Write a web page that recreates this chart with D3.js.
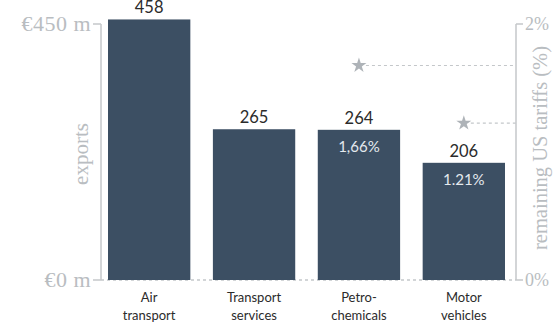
<!DOCTYPE html>
<html><head><meta charset="utf-8">
<script src="https://cdn.jsdelivr.net/npm/d3@7"></script>
<style>html,body{margin:0;padding:0;background:#fff;}</style>
</head><body>
<svg id="c" width="553" height="329"></svg>
<script>
const categories = [["Air","transport"],["Transport","services"],["Petro-","chemicals"],["Motor","vehicles"]];
const exportsVals = [458, 265, 264, 206];
const tariffVals = [null, null, 1.66, 1.21];
const tariffLabels = [null, null, "1,66%", "1.21%"];
const leftTicks = [0, 450];
const leftTickLabels = ["€0 m", "€450 m"];
const rightTicks = [0, 2];
const rightTickLabels = ["0%", "2%"];

const svg = d3.select("#c");
const y0 = 280, y1 = 24;
const xL = 101, xR = 516;
const x = d3.scaleBand().domain(d3.range(categories.length)).range([108, 505]).paddingInner(0.215).paddingOuter(0);
const y = d3.scaleLinear().domain([0, 450]).range([y0, y1]);
const yR = d3.scaleLinear().domain([0, 2]).range([y0, y1]);
const gray = "#c4c7ca", axisTxt = "#b9bdc1", bar = "#3c4f63";
const serif = "'Liberation Serif','DejaVu Serif',serif";
const sans = "Lato,'Open Sans',sans-serif";

// baseline dashed
svg.append("line").attr("x1", xL).attr("x2", xR).attr("y1", y0).attr("y2", y0)
  .attr("stroke", gray).attr("stroke-width", 1.3).attr("stroke-dasharray", "3,3");

// bars
svg.selectAll("rect.bar").data(exportsVals).join("rect")
  .attr("x", (d,i) => x(i)).attr("width", x.bandwidth())
  .attr("y", d => y(d)).attr("height", d => y0 - y(d)).attr("fill", bar);

// value labels
svg.selectAll("text.val").data(exportsVals).join("text")
  .attr("x", (d,i) => x(i) + x.bandwidth()/2).attr("y", d => y(d) - 6)
  .attr("text-anchor", "middle").attr("font-family", sans).attr("font-size", 16.5)
  .attr("fill", "#2b2b2b").text(d => d);

// percent labels inside bars
tariffLabels.forEach((lab, i) => {
  if (!lab) return;
  svg.append("text")
    .attr("x", x(i) + x.bandwidth()/2).attr("y", y(exportsVals[i]) + 22)
    .attr("text-anchor", "middle").attr("font-family", sans).attr("font-size", 15)
    .attr("fill", "#e4e9ee").text(lab);
});

// tariff stars + dashed leaders
tariffVals.forEach((v, i) => {
  if (v == null) return;
  const cx = x(i) + x.bandwidth()/2, cy = yR(v) - 2;
  svg.append("line").attr("x1", cx + 7).attr("x2", xR).attr("y1", cy).attr("y2", cy)
    .attr("stroke", gray).attr("stroke-width", 1.2).attr("stroke-dasharray", "3,3");
  svg.append("path").attr("d", d3.symbol(d3.symbolStar, 70)()).attr("transform", `translate(${cx},${cy})`)
    .attr("fill", "#aeb3b8");
});

// left axis
svg.append("line").attr("x1", xL).attr("x2", xL).attr("y1", y1).attr("y2", y0).attr("stroke", gray).attr("stroke-width", 1.5);
leftTicks.forEach((t, i) => {
  svg.append("line").attr("x1", xL - 8).attr("x2", xL).attr("y1", y(t)).attr("y2", y(t)).attr("stroke", gray).attr("stroke-width", 1.5);
  svg.append("text").attr("x", xL - 10).attr("y", y(t)).attr("dy", "0.3em").attr("text-anchor", "end")
    .attr("font-family", serif).attr("font-size", 22).attr("letter-spacing", 0.5).attr("fill", axisTxt).text(leftTickLabels[i]);
});
// right axis
svg.append("line").attr("x1", xR).attr("x2", xR).attr("y1", y1).attr("y2", y0).attr("stroke", gray).attr("stroke-width", 1.5);
rightTicks.forEach((t, i) => {
  svg.append("line").attr("x1", xR).attr("x2", xR + 7).attr("y1", yR(t)).attr("y2", yR(t)).attr("stroke", gray).attr("stroke-width", 1.5);
  svg.append("text").attr("x", xR + 9).attr("y", yR(t)).attr("dy", "0.32em").attr("text-anchor", "start")
    .attr("font-family", serif).attr("font-size", 18).attr("fill", axisTxt).text(rightTickLabels[i]);
});

// axis titles
svg.append("text").attr("transform", `translate(88,154) rotate(-90)`).attr("text-anchor", "middle")
  .attr("font-family", serif).attr("font-size", 21).attr("fill", axisTxt).text("exports");
svg.append("text").attr("transform", `translate(547,148) rotate(-90)`).attr("text-anchor", "middle")
  .attr("font-family", serif).attr("font-size", 20.5).attr("fill", axisTxt).text("remaining US tariffs (%)");

// category labels
categories.forEach((c, i) => {
  const t = svg.append("text").attr("x", x(i) + x.bandwidth()/2).attr("text-anchor", "middle")
    .attr("font-family", sans).attr("font-size", 13).attr("fill", "#2b2b2b");
  c.forEach((line, j) => t.append("tspan").attr("x", x(i) + x.bandwidth()/2).attr("y", 302 + j * 18).text(line));
});
</script>
</body></html>
